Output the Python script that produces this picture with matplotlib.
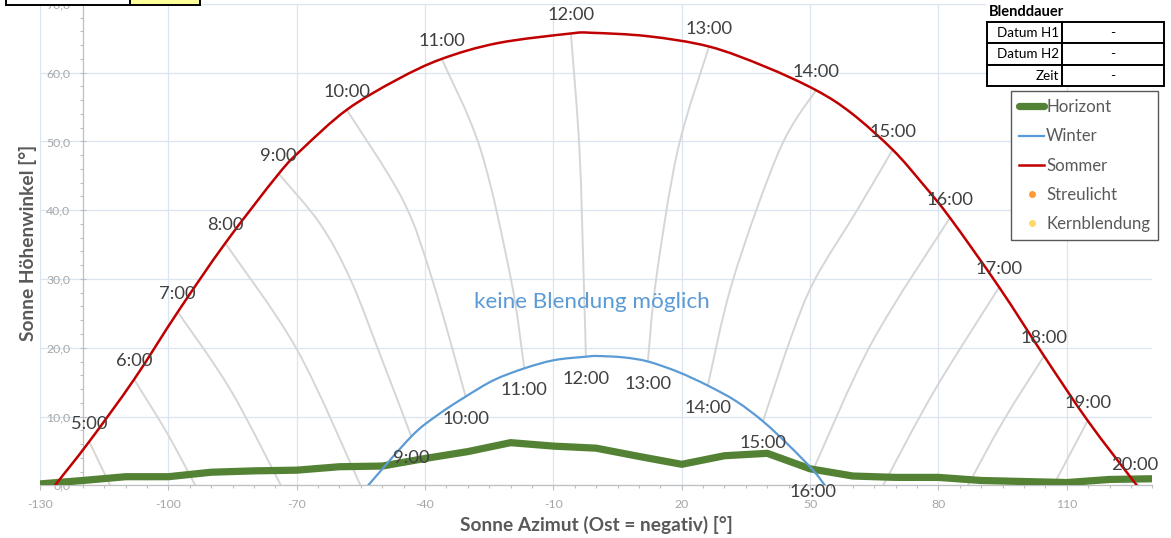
import matplotlib
matplotlib.use("Agg")
import matplotlib.pyplot as plt
from matplotlib.patches import Rectangle, PathPatch
from matplotlib.path import Path
from matplotlib.lines import Line2D
from matplotlib.ticker import MultipleLocator, FuncFormatter, FixedLocator

plt.rcParams['font.family'] = ['Lato', 'DejaVu Sans']

# ---------------- data ----------------
horizon_az = [-130, -120, -110, -100, -90, -80, -70, -60, -50, -40, -30, -20, -10,
              0, 10, 20, 30, 40, 50, 60, 70, 80, 90, 100, 110, 120, 130]
horizon_alt = [0.2, 0.7, 1.25, 1.25, 1.9, 2.1, 2.2, 2.7, 2.8, 3.9, 4.9, 6.2, 5.7,
               5.4, 4.2, 3.05, 4.3, 4.65, 2.4, 1.35, 1.15, 1.15, 0.7, 0.55, 0.4, 0.85, 0.95]

summer_az = [-126.5, -118.5, -108.0, -97.8, -86.7, -74.2, -68.7, -58.3, -46.5, -36.1,
             -23.0, -5.9, -1.2, 12.1, 26.4, 39.4, 51.4, 59.7, 69.3, 76.1, 82.7, 94.2,
             104.7, 114.9, 126.0, 126.8]
summer_alt = [0.0, 6.35, 15.4, 25.2, 35.2, 45.3, 48.9, 54.6, 59.0, 62.0,
              64.3, 65.7, 65.8, 65.3, 63.8, 60.9, 57.45, 54.1, 48.8, 44.0, 38.9, 28.8,
              18.8, 9.4, 0.3, -0.3]

winter_az = [-53.7, -43.2, -37.1, -30.5, -23.9, -16.8, -9.8, -2.4, 0.3, 6.4, 12.1,
             19.1, 26.1, 32.8, 39.0, 44.9, 50.7, 53.8]
winter_alt = [-0.3, 7.1, 10.2, 12.9, 15.3, 17.0, 18.2, 18.7, 18.8, 18.6, 18.0,
              16.5, 14.5, 12.2, 9.3, 5.9, 2.2, -0.3]

summer_hours = ["5:00", "6:00", "7:00", "8:00", "9:00", "10:00", "11:00", "12:00",
                "13:00", "14:00", "15:00", "16:00", "17:00", "18:00", "19:00", "20:00"]
summer_hour_az = [-118.5, -108.0, -97.8, -86.7, -74.2, -58.3, -36.1, -5.9,
                  26.4, 51.4, 69.3, 82.7, 94.2, 104.7, 114.9, 126.0]
summer_hour_alt = [6.35, 15.4, 25.2, 35.2, 45.3, 54.6, 62.0, 65.7,
                   63.8, 57.45, 48.8, 38.9, 28.8, 18.8, 9.4, 0.3]

winter_hours = ["9:00", "10:00", "11:00", "12:00", "13:00", "14:00", "15:00", "16:00"]
winter_hour_az = [-43.2, -30.5, -16.8, -2.4, 12.1, 26.1, 39.0, 50.7]
winter_hour_alt = [7.1, 12.9, 17.0, 18.7, 18.0, 14.5, 9.3, 2.2]

# hour lines (connecting summer and winter positions of the same hour)
hourline_az = [
    [-118.5, -113.6],
    [-108.0, -100.3, -93.7],
    [-97.8, -85.5, -73.7],
    [-86.7, -69.9, -55.1],
    [-74.2, -64.5, -57.4, -50.5, -43.2],
    [-58.3, -45.2, -38.3, -30.5],
    [-36.1, -27.0, -19.9, -16.8],
    [-5.9, -3.9, -2.9, -2.4],
    [26.4, 19.1, 14.0, 12.1],
    [51.4, 42.9, 32.0, 26.1],
    [69.3, 61.0, 51.1, 45.6, 39.0],
    [82.7, 64.4, 50.7],
    [94.2, 79.2, 67.1],
    [104.7, 95.3, 86.9],
    [114.9, 106.9],
]
hourline_alt = [
    [6.35, 0.0],
    [15.4, 7.6, 0.0],
    [25.2, 13.9, 0.0],
    [35.2, 19.7, 0.0],
    [45.3, 38.0, 29.9, 19.0, 7.1],
    [54.6, 41.5, 29.9, 12.9],
    [62.0, 48.8, 29.9, 17.0],
    [65.7, 48.8, 29.9, 18.7],
    [63.8, 48.8, 29.9, 18.0],
    [57.45, 48.8, 29.9, 14.5],
    [48.8, 40.0, 29.9, 21.6, 9.3],
    [38.9, 20.7, 2.2],
    [28.8, 13.9, 0.0],
    [18.8, 9.5, 0.0],
    [9.4, 0.0],
]

streulicht_az, streulicht_alt = [], []
kern_az, kern_alt = [], []

table_rows = ["Datum H1", "Datum H2", "Zeit"]
table_vals = ["-", "-", "-"]


def smooth_line(ax, xs, ys, **kw):
    """Draw a smoothed line (like a spreadsheet 'smoothed line') through the points."""
    pts = list(zip(xs, ys))
    n = len(pts)
    verts = [pts[0]]
    codes = [Path.MOVETO]
    for i in range(n - 1):
        p0 = pts[i - 1] if i > 0 else pts[i]
        p1 = pts[i]
        p2 = pts[i + 1]
        p3 = pts[i + 2] if i + 2 < n else pts[i + 1]
        c1 = (p1[0] + (p2[0] - p0[0]) / 6.0, p1[1] + (p2[1] - p0[1]) / 6.0)
        c2 = (p2[0] - (p3[0] - p1[0]) / 6.0, p2[1] - (p3[1] - p1[1]) / 6.0)
        verts += [c1, c2, p2]
        codes += [Path.CURVE4, Path.CURVE4, Path.CURVE4]
    patch = PathPatch(Path(verts, codes), fill=False, **kw)
    ax.add_patch(patch)
    return patch


# ---------------- figure ----------------
W, H = 1171, 538
fig = plt.figure(figsize=(W / 100, H / 100), dpi=100)
fig.patch.set_facecolor("white")

x0, x1 = 40.0, 1152.3
y0, y1 = 485.3, 3.9
ax = fig.add_axes([x0 / W, (H - y0) / H, (x1 - x0) / W, (y0 - y1) / H])
ax.set_xlim(-130, 130)
ax.set_ylim(0, 70)

grid_c = "#dbe5f1"
ax.xaxis.set_major_locator(FixedLocator(list(range(-130, 131, 30))))
ax.xaxis.set_minor_locator(MultipleLocator(5))
ax.yaxis.set_major_locator(MultipleLocator(10))
ax.yaxis.set_minor_locator(MultipleLocator(2))
ax.grid(True, which="major", color=grid_c, lw=0.9, zorder=0)
ax.set_axisbelow(True)

for s in ["top", "right"]:
    ax.spines[s].set_visible(False)
ax.spines["left"].set_position(("data", -120))
ax.spines["left"].set_color("#bfbfbf")
ax.spines["bottom"].set_color("#bfbfbf")
ax.spines["left"].set_linewidth(0.9)
ax.spines["bottom"].set_linewidth(0.9)

ax.tick_params(axis="y", which="major", direction="inout", length=5, width=0.8,
               color="#bfbfbf", labelcolor="#a6a6a6", labelsize=8.8, pad=6.5)
ax.tick_params(axis="y", which="minor", direction="out", length=2.5, width=0.8,
               color="#bfbfbf")
ax.tick_params(axis="x", which="major", direction="out", length=3.5, width=0.8,
               color="#bfbfbf", labelcolor="#a6a6a6", labelsize=8.8, pad=6.5)
ax.tick_params(axis="x", which="minor", direction="out", length=2.2, width=0.8,
               color="#bfbfbf")
ax.yaxis.set_major_formatter(FuncFormatter(lambda v, p: f"{v:.1f}".replace(".", ",")))
ax.xaxis.set_major_formatter(FuncFormatter(lambda v, p: f"{int(v)}"))

# hour lines
for az_l, alt_l in zip(hourline_az, hourline_alt):
    smooth_line(ax, az_l, alt_l, edgecolor="#d6d6d6", lw=1.4, zorder=2,
                capstyle="butt")

hz_style = dict(color="#548235", lw=5.2)
wi_style = dict(color="#5b9bd5", lw=1.6)
so_style = dict(color="#c00000", lw=1.8)

ax.plot(horizon_az, horizon_alt, zorder=3, solid_capstyle="round",
        solid_joinstyle="round", **hz_style)
smooth_line(ax, winter_az, winter_alt, edgecolor=wi_style["color"], lw=wi_style["lw"],
            zorder=4)
smooth_line(ax, summer_az, summer_alt, edgecolor=so_style["color"], lw=so_style["lw"],
            zorder=4)
h_streu, = ax.plot(streulicht_az, streulicht_alt, "o", color="#ff9933", ms=4,
                   label="Streulicht")
h_kern, = ax.plot(kern_az, kern_alt, "o", color="#ffd966", ms=4, label="Kernblendung")

lab_c = "#404040"
for t, a, h in zip(summer_hours, summer_hour_az, summer_hour_alt):
    ax.annotate(t, (a, h), xytext=(0, 18), textcoords="offset pixels",
                ha="center", va="center", fontsize=13.2, color=lab_c, zorder=6)
for t, a, h in zip(winter_hours, winter_hour_az, winter_hour_alt):
    ax.annotate(t, (a, h), xytext=(0, -22), textcoords="offset pixels",
                ha="center", va="center", fontsize=13.2, color=lab_c, zorder=6)

ax.text(-1.0, 26.6, "keine Blendung möglich", color="#5b9bd5", fontsize=16.2,
        ha="center", va="center", zorder=6)

xl = ax.set_xlabel("Sonne Azimut (Ost = negativ) [°]", fontsize=13.8,
                   fontweight="bold", color="#595959")
xl.set_verticalalignment("center")
ax.xaxis.set_label_coords((596 - x0) / (x1 - x0), (y0 - 525) / (y0 - y1))
yl = ax.set_ylabel("Sonne Höhenwinkel [°]", fontsize=13.8, fontweight="bold",
                   color="#595959")
yl.set_verticalalignment("center")
yl.set_rotation_mode("anchor")
ax.yaxis.set_label_coords((28 - x0) / (x1 - x0), (y0 - 243) / (y0 - y1))

handles = [Line2D([], [], solid_capstyle="round", **hz_style),
           Line2D([], [], **wi_style),
           Line2D([], [], **so_style),
           h_streu, h_kern]
labels = ["Horizont", "Winter", "Sommer", "Streulicht", "Kernblendung"]
leg = ax.legend(handles, labels, loc="upper left",
                bbox_to_anchor=(1011.2 / W, 1 - 91.3 / H),
                bbox_transform=fig.transFigure, borderaxespad=0, frameon=True,
                fancybox=False, framealpha=1, edgecolor="#595959", fontsize=12.1,
                labelcolor="#595959", handlelength=1.48, handletextpad=0.12,
                labelspacing=0.78, borderpad=0.48)
leg.get_frame().set_linewidth(1.0)
leg.set_zorder(20)

# ---------------- overlay (sheet cells) ----------------
ov = fig.add_axes([0, 0, 1, 1], zorder=10)
ov.set_xlim(0, W)
ov.set_ylim(H, 0)
ov.axis("off")
ov.patch.set_visible(False)

# cut-off coordinate cell at top-left
ov.add_patch(Rectangle((6, -20), 124, 25, facecolor="white", edgecolor="black", lw=1.4))
ov.add_patch(Rectangle((130, -20), 70, 25, facecolor="#ffff99", edgecolor="black", lw=1.4))
ov.text(126, -4, "Koordinaten:", ha="right", va="center", fontsize=9.5,
        fontweight="bold", color="black", clip_on=True)

# Blenddauer table
ov.add_patch(Rectangle((986, 4), 178, 18, facecolor="white", edgecolor="none"))
ov.text(989, 12.5, "Blenddauer", ha="left", va="center", fontsize=10.5,
        fontweight="bold", color="black")
row_top = [21.7, 43.3, 64.7]
row_h = 21.3
for yt, lab, val in zip(row_top, table_rows, table_vals):
    ov.add_patch(Rectangle((986.7, yt), 75, row_h, facecolor="white",
                           edgecolor="black", lw=1.4))
    ov.add_patch(Rectangle((1061.7, yt), 102.3, row_h, facecolor="white",
                           edgecolor="black", lw=1.4))
    ov.text(1059, yt + row_h / 2 + 0.5, lab, ha="right", va="center", fontsize=9.7,
            color="black")
    ov.text(1113, yt + row_h / 2 + 0.5, val, ha="center", va="center", fontsize=9.7,
            color="black")

fig.savefig("out.png", dpi=100, facecolor="white")
